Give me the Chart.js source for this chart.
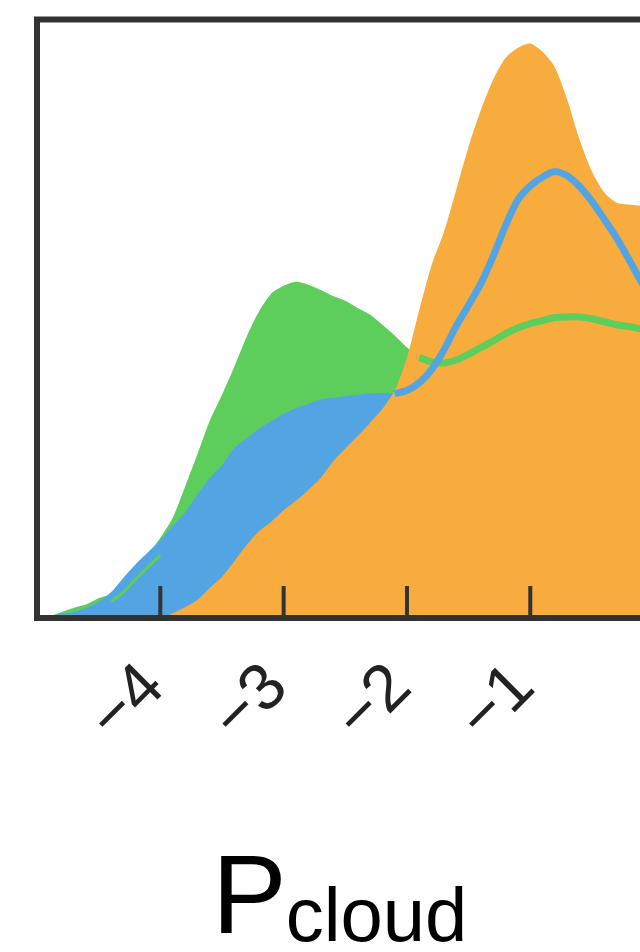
<!DOCTYPE html>
<html>
<head>
<meta charset="utf-8">
<script src="https://cdn.jsdelivr.net/npm/chart.js@4/dist/chart.umd.min.js"></script>
<style>
  html, body { margin: 0; padding: 0; background: #fff; overflow: hidden; width: 640px; height: 952px; }
  #wrap { position: absolute; left: 0; top: 0; width: 680px; height: 952px; }
</style>
</head>
<body>
<div id="wrap"><canvas id="c" width="680" height="952"></canvas></div>
<script>
// log10 cloud-top pressure grid
const pcloud = [
  -5.0, -4.9, -4.8, -4.7, -4.6, -4.5, -4.4, -4.3, -4.2, -4.1,
  -4.0, -3.9, -3.8, -3.7, -3.6, -3.5, -3.4, -3.3, -3.2, -3.1,
  -3.0, -2.9, -2.8, -2.7, -2.6, -2.5, -2.4, -2.3, -2.2, -2.1,
  -2.0, -1.9, -1.8, -1.7, -1.6, -1.5, -1.4, -1.3, -1.2, -1.1,
  -1.0, -0.9, -0.8, -0.7, -0.6, -0.5, -0.4, -0.3, -0.2, -0.1, 0.0
];

// posterior densities (arbitrary units)
const greenPost = [
  0.0, 0.3, 1.0, 1.7, 2.3, 3.3, 4.0, 6.4, 8.7, 10.7,
  13.4, 16.7, 21.9, 27.3, 32.9, 37.3, 42.0, 47.0, 51.2, 54.2,
  55.5, 56.2, 55.7, 54.8, 53.8, 53.0, 51.8, 50.7, 49.0, 47.2,
  45.2, 43.5, 42.8, 42.6, 43.1, 44.1, 45.2, 46.3, 47.5, 48.5,
  49.2, 49.7, 50.2, 50.3, 50.3, 50.0, 49.5, 49.0, 48.7, 48.3, 48.2
];
const bluePost = [
  0.0, 0.3, 0.7, 1.0, 1.7, 2.7, 4.3, 6.7, 9.0, 11.0,
  13.0, 15.4, 17.6, 20.6, 23.4, 25.5, 28.4, 30.0, 31.6, 32.9,
  34.1, 35.1, 35.8, 36.5, 36.8, 37.1, 37.3, 37.5, 37.6, 37.5,
  38.0, 39.3, 41.5, 44.8, 48.8, 52.3, 55.9, 60.5, 65.6, 69.9,
  72.2, 73.7, 74.6, 73.9, 72.1, 69.6, 66.6, 63.5, 59.9, 56.2, 52.8
];
const orangePost = [
  0.0, 0.0, 0.0, 0.0, 0.0, 0.0, 0.0, 0.0, 0.0, 0.0,
  0.0, 0.8, 1.8, 3.0, 5.0, 6.9, 9.5, 12.2, 14.5, 16.1,
  18.0, 19.6, 21.4, 23.4, 26.1, 28.3, 30.4, 32.6, 34.9, 38.0,
  43.5, 51.5, 59.0, 64.5, 71.6, 78.8, 84.9, 90.0, 93.6, 95.3,
  96.0, 94.6, 92.0, 86.6, 79.9, 74.6, 71.1, 69.4, 69.1, 68.9, 68.7
];
// faint green trace showing through the blue region
const greenTrace = [
  null, null, null, null, null, null, 2.8, 4.3, 6.5, 8.5,
  10.5
];

const tickValues = [-4, -3, -2, -1];

// first grid index where each outline is drawn over the orange region
const blueLineFrom = 29;
const greenLineFrom = 31;

const ORANGE = '#F9AC3E';
const BLUE = '#52A5E2';
const GREEN = '#5DCD5B';
const FRAME = '#333333';

function pts(vals, from) {
  return vals.map((v, i) => ({ x: pcloud[i], y: (from !== undefined && i < from) ? null : v }));
}

const frameAndTicks = {
  id: 'frameAndTicks',
  afterDatasetsDraw(chart) {
    const { ctx, chartArea: a } = chart;
    const xs = chart.scales.x;
    ctx.save();
    ctx.strokeStyle = FRAME;
    ctx.lineWidth = 4;
    xs.ticks.forEach(t => {
      const px = xs.getPixelForValue(t.value);
      ctx.beginPath();
      ctx.moveTo(px, a.bottom);
      ctx.lineTo(px, a.bottom - 32);
      ctx.stroke();
    });
    ctx.lineWidth = 6;
    ctx.strokeRect(a.left, a.top, a.right - a.left, a.bottom - a.top);
    ctx.restore();
  }
};

const axisTitle = {
  id: 'axisTitle',
  afterDraw(chart) {
    const { ctx, chartArea: a } = chart;
    ctx.save();
    ctx.fillStyle = '#000';
    ctx.textBaseline = 'alphabetic';
    ctx.textAlign = 'left';
    const x0 = a.left + 175;
    ctx.font = '112px "Liberation Sans", Arial, sans-serif';
    ctx.fillText('P', x0, a.bottom + 315);
    const w = ctx.measureText('P').width;
    ctx.font = '76px "Liberation Sans", Arial, sans-serif';
    ctx.fillText('cloud', x0 + w - 1, a.bottom + 323);
    ctx.restore();
  }
};

new Chart(document.getElementById('c'), {
  type: 'line',
  data: {
    datasets: [
      { label: 'blue line', data: pts(bluePost, blueLineFrom), borderColor: BLUE, borderWidth: 7, fill: false, order: 0, borderCapStyle: 'butt' },
      { label: 'green line', data: pts(greenPost, greenLineFrom), borderColor: GREEN, borderWidth: 7, fill: false, order: 1, borderCapStyle: 'butt' },
      { label: 'orange', data: pts(orangePost), borderColor: 'rgba(0,0,0,0)', borderWidth: 0, backgroundColor: ORANGE, fill: 'origin', order: 2 },
      { label: 'green trace', data: greenTrace.map((v, i) => ({ x: pcloud[i], y: v })), borderColor: GREEN, borderWidth: 3, fill: false, order: 3 },
      { label: 'blue', data: pts(bluePost), borderColor: 'rgba(0,0,0,0)', borderWidth: 0, backgroundColor: BLUE, fill: 'origin', order: 4 },
      { label: 'green', data: pts(greenPost), borderColor: 'rgba(0,0,0,0)', borderWidth: 0, backgroundColor: GREEN, fill: 'origin', order: 5 }
    ]
  },
  options: {
    responsive: false,
    animation: false,
    devicePixelRatio: 1,
    spanGaps: false,
    elements: { point: { radius: 0, hoverRadius: 0 }, line: { tension: 0.25 } },
    layout: { padding: { left: 37, top: 19.5, right: 26.4, bottom: 0 } },
    plugins: { legend: { display: false }, tooltip: { enabled: false } },
    scales: {
      x: {
        type: 'linear',
        min: -5, max: 0,
        afterBuildTicks(scale) { scale.ticks = tickValues.map(v => ({ value: v })); },
        afterFit(scale) { scale.height = 334; },
        grid: { display: false },
        border: { display: false },
        ticks: {
          autoSkip: false,
          minRotation: 45, maxRotation: 45,
          padding: 23,
          labelOffset: -6,
          color: '#222',
          font: { family: '"Liberation Sans", Arial, sans-serif', size: 66 },
          callback: v => '\u2212' + Math.abs(v)
        }
      },
      y: { type: 'linear', min: 0, max: 100, display: false }
    }
  },
  plugins: [frameAndTicks, axisTitle]
});
</script>
</body>
</html>
